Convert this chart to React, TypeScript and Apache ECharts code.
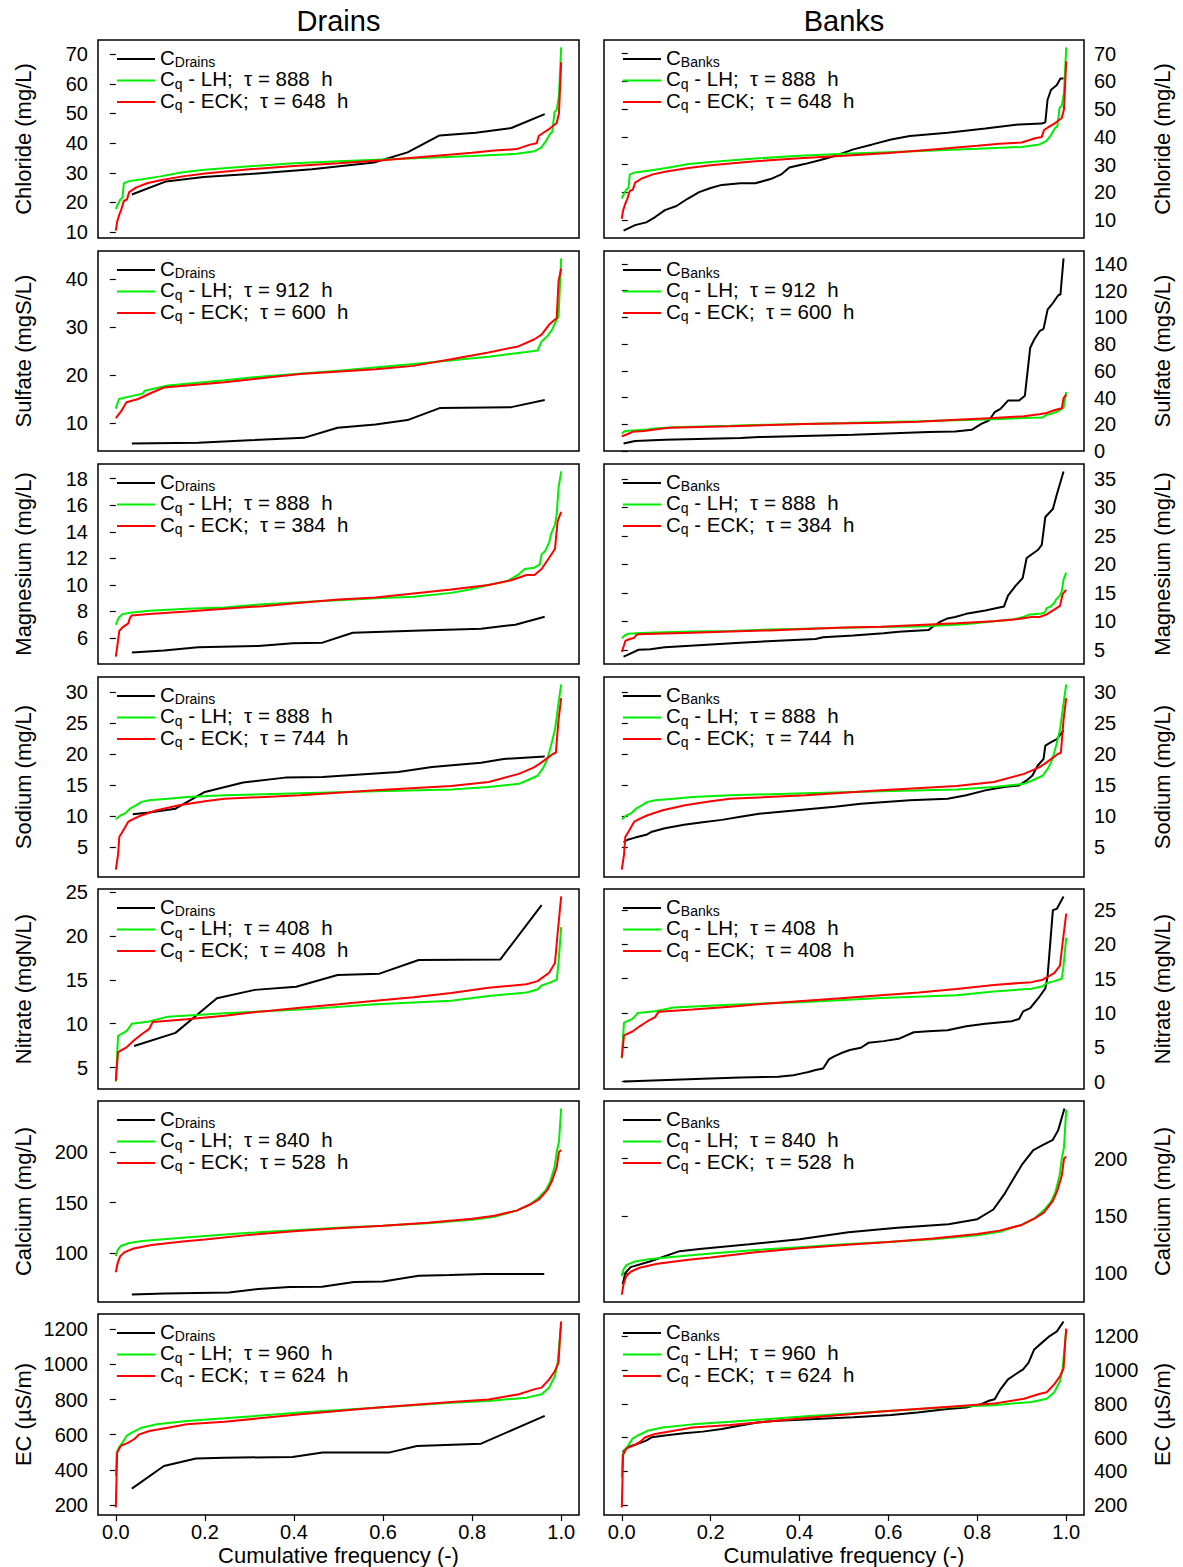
import React, { useEffect, useRef } from 'react';
import * as echarts from 'echarts';

type Pt = [number, number];

const FONT = '"Liberation Sans", Arial, Helvetica, sans-serif';

const columnTitles = ['Drains', 'Banks'];
const rowNames = ['Chloride (mg/L)', 'Sulfate (mgS/L)', 'Magnesium (mg/L)', 'Sodium (mg/L)', 'Nitrate (mgN/L)', 'Calcium (mg/L)', 'EC (µS/m)'];
const tauLH = [888, 912, 888, 888, 408, 840, 960];
const tauECK = [648, 600, 384, 744, 408, 528, 624];
const freqTicks = [0, 0.2, 0.4, 0.6, 0.8, 1.0];
const drainsTicks = [
  [10, 20, 30, 40, 50, 60, 70],
  [10, 20, 30, 40],
  [6, 8, 10, 12, 14, 16, 18],
  [5, 10, 15, 20, 25, 30],
  [5, 10, 15, 20, 25],
  [100, 150, 200],
  [200, 400, 600, 800, 1000, 1200],
];
const banksTicks = [
  [10, 20, 30, 40, 50, 60, 70],
  [0, 20, 40, 60, 80, 100, 120, 140],
  [5, 10, 15, 20, 25, 30, 35],
  [5, 10, 15, 20, 25, 30],
  [0, 5, 10, 15, 20, 25],
  [100, 150, 200],
  [200, 400, 600, 800, 1000, 1200],
];

// ---- Chloride
const chlorideLH: Pt[] = [[0,17.8],[0.005,19.5],[0.01,21],[0.015,21.6],[0.018,26.5],[0.03,27.2],[0.06,27.8],[0.1,28.8],[0.15,30.2],[0.2,31],[0.3,32.2],[0.4,33.2],[0.5,33.9],[0.6,34.5],[0.7,35.1],[0.8,35.7],[0.9,36.4],[0.94,37.3],[0.955,38.5],[0.965,40.5],[0.975,43.2],[0.98,43.8],[0.985,50.5],[0.99,51.2],[0.995,56],[1,72.3]];
const chlorideECK: Pt[] = [[0,10.5],[0.003,13.5],[0.008,16],[0.012,17.5],[0.018,20.5],[0.025,21],[0.03,23.5],[0.045,25],[0.07,26.5],[0.1,27.5],[0.15,28.8],[0.2,29.8],[0.3,31.2],[0.4,32.3],[0.5,33.2],[0.6,34.2],[0.7,35.5],[0.8,36.8],[0.85,37.5],[0.9,38],[0.93,39.5],[0.945,40],[0.95,42.5],[0.96,43.5],[0.975,45],[0.99,46.8],[0.995,50],[1,67.3]];
const chlorideDrains: Pt[] = [[0.036,22.7],[0.113,27.1],[0.197,28.6],[0.3,29.6],[0.44,31.2],[0.58,33.5],[0.655,36.9],[0.727,42.6],[0.808,43.5],[0.888,45.1],[0.963,49.8]];
const chlorideBanks: Pt[] = [[0.004,6.2],[0.03,8.2],[0.055,9.2],[0.076,11.2],[0.097,13.6],[0.123,15.1],[0.148,17.7],[0.174,20.1],[0.2,21.6],[0.225,22.7],[0.267,23.3],[0.3,23.3],[0.335,24.8],[0.36,26.6],[0.377,29],[0.411,30.2],[0.445,31.6],[0.479,33.1],[0.521,35.5],[0.564,37.3],[0.606,39.1],[0.648,40.3],[0.733,41.5],[0.818,43],[0.894,44.5],[0.945,44.8],[0.953,45.3],[0.958,53.4],[0.966,57],[0.979,58.7],[0.987,61.1],[0.994,61.1]];

// ---- Sulfate
const sulfateLH: Pt[] = [[0,13],[0.007,15],[0.04,15.7],[0.06,16.1],[0.065,16.7],[0.117,17.8],[0.244,18.9],[0.33,19.7],[0.5,20.9],[0.668,22.3],[0.837,23.8],[0.922,24.8],[0.947,25.1],[0.956,27],[0.969,28.1],[0.98,29.5],[0.988,31.2],[0.994,32.2],[1,44.3]];
const sulfateECK: Pt[] = [[0,11],[0.011,12.3],[0.024,14.3],[0.05,15],[0.083,16.4],[0.108,17.4],[0.244,18.5],[0.414,20.2],[0.583,21.2],[0.668,21.9],[0.753,23.3],[0.837,24.7],[0.905,26],[0.939,27.4],[0.956,28.4],[0.973,30.5],[0.99,31.9],[0.994,39.5],[1,42.2]];
const sulfateDrains: Pt[] = [[0.036,5.7],[0.185,5.9],[0.3,6.4],[0.422,6.9],[0.498,9],[0.583,9.7],[0.655,10.6],[0.727,13.1],[0.888,13.3],[0.963,14.8]];
const sulfateBanks: Pt[] = [[0.004,5.5],[0.03,7.4],[0.097,8.4],[0.267,9.7],[0.309,10.4],[0.521,12.1],[0.69,14.1],[0.75,14.6],[0.788,15.9],[0.809,20.3],[0.826,22.8],[0.839,29],[0.852,31.5],[0.869,37.7],[0.894,37.7],[0.907,41.4],[0.919,77.3],[0.928,83.5],[0.94,89.7],[0.949,91.4],[0.958,105.8],[0.97,110.8],[0.983,117],[0.987,117],[0.994,144.2]];

// ---- Magnesium
const magnesiumLH: Pt[] = [[0,7],[0.007,7.55],[0.015,7.8],[0.032,7.9],[0.075,8.05],[0.16,8.2],[0.244,8.3],[0.33,8.55],[0.414,8.7],[0.5,8.85],[0.583,9],[0.668,9.1],[0.753,9.4],[0.795,9.65],[0.837,10],[0.88,10.3],[0.905,10.8],[0.918,11.2],[0.94,11.3],[0.952,11.55],[0.956,12.3],[0.964,12.55],[0.973,13.2],[0.977,13.8],[0.986,14.55],[0.99,15.3],[0.994,17.3],[1,18.55]];
const magnesiumECK: Pt[] = [[0,4.6],[0.005,5.8],[0.008,6.55],[0.015,6.8],[0.028,7.1],[0.032,7.55],[0.036,7.7],[0.075,7.8],[0.16,8],[0.244,8.2],[0.33,8.4],[0.414,8.65],[0.5,8.9],[0.583,9.05],[0.668,9.35],[0.753,9.65],[0.837,10],[0.888,10.35],[0.922,10.75],[0.94,10.75],[0.956,11.2],[0.973,12.05],[0.986,12.7],[0.992,14.8],[1,15.5]];
const magnesiumDrains: Pt[] = [[0.036,4.9],[0.108,5.05],[0.185,5.3],[0.32,5.4],[0.397,5.6],[0.464,5.65],[0.532,6.4],[0.668,6.55],[0.82,6.7],[0.897,7],[0.963,7.6]];
const magnesiumBanks: Pt[] = [[0.004,3.8],[0.013,4.1],[0.038,5],[0.064,5.1],[0.097,5.45],[0.182,5.85],[0.267,6.25],[0.352,6.6],[0.436,6.9],[0.453,7.2],[0.521,7.5],[0.589,7.9],[0.623,8.15],[0.69,8.45],[0.699,9],[0.716,9.9],[0.733,10.5],[0.75,10.75],[0.775,11.3],[0.818,11.9],[0.86,12.6],[0.869,14.5],[0.886,16.2],[0.902,17.6],[0.911,21.1],[0.936,22.5],[0.945,23.4],[0.953,28.3],[0.97,29.7],[0.979,32.3],[0.994,36.3]];

// ---- Sodium
const sodiumLH: Pt[] = [[0,9.5],[0.011,10.15],[0.02,10.4],[0.032,11.2],[0.045,11.75],[0.058,12.3],[0.075,12.55],[0.117,12.8],[0.159,13.1],[0.244,13.35],[0.414,13.7],[0.583,14],[0.753,14.3],[0.837,14.7],[0.905,15.2],[0.922,15.7],[0.947,16.5],[0.96,17.8],[0.969,19.2],[0.977,21.3],[0.986,23.9],[0.994,28.2],[1,31.2]];
const sodiumECK: Pt[] = [[0,1.4],[0.005,3.8],[0.008,6.7],[0.015,7.5],[0.028,9.1],[0.041,9.6],[0.058,10.15],[0.092,10.95],[0.142,11.75],[0.2,12.4],[0.244,12.8],[0.414,13.35],[0.583,14.15],[0.753,14.85],[0.837,15.5],[0.905,16.8],[0.939,17.85],[0.956,18.65],[0.981,20],[0.988,20.2],[0.994,25.5],[1,29]];
const sodiumDrains: Pt[] = [[0.038,10.3],[0.075,10.6],[0.134,11.2],[0.2,13.9],[0.286,15.4],[0.38,16.2],[0.464,16.3],[0.634,17.1],[0.71,17.9],[0.82,18.6],[0.871,19.2],[0.963,19.6]];
const sodiumBanks: Pt[] = [[0.004,5.8],[0.013,6.2],[0.03,6.55],[0.055,7],[0.068,7.5],[0.097,8.05],[0.14,8.6],[0.182,9],[0.225,9.4],[0.267,9.9],[0.309,10.4],[0.394,10.95],[0.479,11.5],[0.538,12],[0.648,12.55],[0.733,12.8],[0.775,13.35],[0.818,14.15],[0.86,14.7],[0.894,14.95],[0.911,15.75],[0.924,16.55],[0.936,18.15],[0.949,19.2],[0.953,21.35],[0.966,21.9],[0.979,22.4],[0.994,23.8]];

// ---- Nitrate
const nitrateLH: Pt[] = [[0,3.4],[0.005,8.6],[0.015,8.9],[0.024,9.15],[0.032,9.7],[0.036,10],[0.075,10.25],[0.117,10.8],[0.244,11.2],[0.414,11.6],[0.583,12.2],[0.753,12.6],[0.837,13.15],[0.922,13.55],[0.947,13.9],[0.956,14.35],[0.973,14.65],[0.99,15],[0.994,16.9],[1,21]];
const nitrateECK: Pt[] = [[0,3.5],[0.005,6.75],[0.024,7.3],[0.041,8.1],[0.058,8.8],[0.075,9.4],[0.083,10.2],[0.159,10.5],[0.244,10.9],[0.329,11.4],[0.414,11.8],[0.5,12.2],[0.583,12.6],[0.668,13],[0.753,13.5],[0.837,14.1],[0.922,14.5],[0.947,14.85],[0.973,15.8],[0.986,16.9],[0.992,20.3],[1,24.5]];
const nitrateDrains: Pt[] = [[0.041,7.45],[0.134,8.95],[0.227,12.9],[0.312,13.85],[0.405,14.2],[0.498,15.55],[0.592,15.7],[0.68,17.25],[0.863,17.3],[0.956,23.5]];
const nitrateBanks: Pt[] = [[0.004,0],[0.038,0.1],[0.182,0.43],[0.267,0.58],[0.352,0.72],[0.386,0.92],[0.403,1.16],[0.42,1.4],[0.436,1.7],[0.453,1.9],[0.466,3.24],[0.479,3.72],[0.496,4.2],[0.513,4.6],[0.538,4.93],[0.555,5.65],[0.589,5.9],[0.623,6.23],[0.657,7.2],[0.69,7.34],[0.733,7.5],[0.775,8.07],[0.818,8.45],[0.877,8.8],[0.894,9.13],[0.903,10.24],[0.919,10.7],[0.928,11.45],[0.94,12.4],[0.953,13.6],[0.958,15.3],[0.97,25],[0.979,25.2],[0.994,27]];

// ---- Calcium
const calciumLH: Pt[] = [[0,97],[0.004,103],[0.011,107],[0.03,110],[0.06,112],[0.1,113.5],[0.2,117],[0.3,120],[0.4,122.5],[0.5,125],[0.6,127],[0.7,129.5],[0.8,133],[0.85,136],[0.9,142],[0.93,148],[0.95,155],[0.965,162],[0.975,170],[0.985,185],[0.99,200],[0.995,210],[1,243]];
const calciumECK: Pt[] = [[0,81],[0.004,90],[0.01,97],[0.02,101],[0.04,104.5],[0.08,108],[0.15,111.5],[0.2,113.5],[0.3,118],[0.4,121.5],[0.5,124.5],[0.6,127],[0.7,130],[0.8,134],[0.85,137],[0.9,142],[0.93,148],[0.95,153],[0.97,163],[0.98,172],[0.99,185],[0.995,200],[1,202]];
const calciumDrains: Pt[] = [[0.036,59],[0.11,60],[0.254,61],[0.32,64.5],[0.39,66.5],[0.463,66.7],[0.535,71.5],[0.6,71.8],[0.68,77.5],[0.75,78.3],[0.827,79.3],[0.962,79.4]];
const calciumBanks: Pt[] = [[0.002,90],[0.008,100],[0.02,105],[0.063,110],[0.13,119],[0.175,121],[0.287,125],[0.4,129.5],[0.51,135.5],[0.62,139.5],[0.735,142.5],[0.8,147],[0.836,155.5],[0.86,168.5],[0.88,181.5],[0.9,194.5],[0.926,207.5],[0.948,212],[0.97,216.5],[0.982,225],[0.996,244]];

// ---- EC
const ecLH: Pt[] = [[0,365],[0.002,498],[0.007,526],[0.015,555],[0.024,593],[0.036,612],[0.058,640],[0.092,659],[0.159,678],[0.244,693],[0.414,726],[0.583,754],[0.753,782],[0.837,792],[0.922,811],[0.956,830],[0.973,868],[0.986,934],[0.992,1010],[0.996,1124],[1,1230]];
const ecECK: Pt[] = [[0,185],[0.003,498],[0.011,536],[0.028,555],[0.041,574],[0.053,602],[0.075,621],[0.117,640],[0.159,659],[0.244,674],[0.414,716],[0.583,754],[0.753,786],[0.837,801],[0.905,830],[0.939,858],[0.956,868],[0.973,915],[0.986,963],[0.994,1010],[0.998,1181],[1,1245]];
const ecDrains: Pt[] = [[0.036,293],[0.108,422],[0.18,464],[0.244,469],[0.397,473],[0.464,498],[0.613,498],[0.676,536],[0.82,549],[0.963,707]];
const ecBanks: Pt[] = [[0.002,514],[0.013,543],[0.03,557],[0.055,582],[0.068,602],[0.097,612],[0.14,625],[0.182,635],[0.225,651],[0.267,671],[0.309,690],[0.352,700],[0.436,710],[0.521,720],[0.606,733],[0.665,749],[0.733,769],[0.775,778],[0.809,798],[0.826,818],[0.839,827],[0.852,886],[0.869,945],[0.886,975],[0.903,1004],[0.915,1043],[0.928,1122],[0.945,1161],[0.962,1200],[0.979,1229],[0.994,1288]];

const lhSeries = [chlorideLH, sulfateLH, magnesiumLH, sodiumLH, nitrateLH, calciumLH, ecLH];
const eckSeries = [chlorideECK, sulfateECK, magnesiumECK, sodiumECK, nitrateECK, calciumECK, ecECK];
const drainsSeries = [chlorideDrains, sulfateDrains, magnesiumDrains, sodiumDrains, nitrateDrains, calciumDrains, ecDrains];
const banksSeries = [chlorideBanks, sulfateBanks, magnesiumBanks, sodiumBanks, nitrateBanks, calciumBanks, ecBanks];

// layout (pixels)
const GRID_LEFT = [98, 604];
const GRID_WIDTH = [481, 480];
const ROW_TOP = [40, 251, 464, 677, 889, 1101, 1314];
const ROW_HEIGHT = [198, 200, 200, 200, 200, 201, 201];

const GREEN = '#00ee00';
const RED = '#ff0000';
const BLACK = '#000000';
const LINE_W = 2;

function paddedExtent(list: Pt[][]): [number, number] {
  let lo = Infinity;
  let hi = -Infinity;
  list.forEach((s) => s.forEach((p) => { if (p[1] < lo) lo = p[1]; if (p[1] > hi) hi = p[1]; }));
  const pad = (hi - lo) * 0.04;
  return [lo - pad, hi + pad];
}

function buildOption() {
  const grid: any[] = [];
  const xAxis: any[] = [];
  const yAxis: any[] = [];
  const series: any[] = [];
  const graphic: any[] = [];

  columnTitles.forEach((t, c) => {
    graphic.push({
      type: 'text', x: GRID_LEFT[c] + GRID_WIDTH[c] / 2, y: 21, silent: true,
      style: { text: t, fontSize: 29, fontFamily: FONT, fill: '#000', textAlign: 'center', verticalAlign: 'middle' },
    });
  });

  const rich = {
    m: { fontSize: 20.5, lineHeight: 20, fontFamily: FONT, fill: '#000', color: '#000' },
    s: { fontSize: 14, lineHeight: 10, fontFamily: FONT, fill: '#000', color: '#000', padding: [10, 0, 0, 0] },
  };

  for (let r = 0; r < 7; r++) {
    for (let c = 0; c < 2; c++) {
      const g = r * 2 + c;
      const obs = c === 0 ? drainsSeries[r] : banksSeries[r];
      const [ymin, ymax] = paddedExtent([obs, lhSeries[r], eckSeries[r]]);
      const ticks = c === 0 ? drainsTicks[r] : banksTicks[r];
      const bottom = r === 6;
      grid.push({
        left: GRID_LEFT[c], top: ROW_TOP[r], width: GRID_WIDTH[c], height: ROW_HEIGHT[r],
        show: true, borderColor: '#000', borderWidth: 1.5, backgroundColor: 'transparent', containLabel: false,
      });
      xAxis.push({
        gridIndex: g, type: 'value', min: -0.04, max: 1.04,
        axisLine: { show: false }, splitLine: { show: false },
        axisTick: { show: bottom, length: 6, customValues: freqTicks, lineStyle: { color: '#000', width: 1.2 } },
        axisLabel: {
          show: bottom, customValues: freqTicks, formatter: (v: number) => v.toFixed(1),
          fontSize: 20, fontFamily: FONT, color: '#000', margin: 7,
        },
        name: bottom ? 'Cumulative frequency (-)' : '', nameLocation: 'middle', nameGap: 29,
        nameTextStyle: { fontSize: 22, fontFamily: FONT, color: '#000', verticalAlign: 'top' },
      });
      yAxis.push({
        gridIndex: g, type: 'value', position: c === 0 ? 'left' : 'right', min: ymin, max: ymax,
        axisLine: { show: false }, splitLine: { show: false },
        axisTick: { show: true, length: 6, customValues: ticks, lineStyle: { color: '#000', width: 1.2 } },
        axisLabel: { customValues: ticks, formatter: (v: number) => String(v), fontSize: 20, fontFamily: FONT, color: '#000', margin: 10 },
        name: rowNames[r], nameLocation: 'middle', nameRotate: 90, nameGap: c === 0 ? 64 : 67,
        nameTextStyle: { fontSize: 22, fontFamily: FONT, color: '#000' },
      });
      series.push(
        { type: 'line', name: c === 0 ? 'CDrains' : 'CBanks', xAxisIndex: g, yAxisIndex: g, data: obs, symbol: 'none', silent: true, lineStyle: { color: BLACK, width: LINE_W }, z: 2 },
        { type: 'line', name: 'Cq - LH', xAxisIndex: g, yAxisIndex: g, data: lhSeries[r], symbol: 'none', silent: true, lineStyle: { color: GREEN, width: LINE_W }, z: 3 },
        { type: 'line', name: 'Cq - ECK', xAxisIndex: g, yAxisIndex: g, data: eckSeries[r], symbol: 'none', silent: true, lineStyle: { color: RED, width: LINE_W }, z: 4 },
      );

      // legend (drawn inside the panel, top-left)
      const gx = GRID_LEFT[c];
      const gy = ROW_TOP[r];
      const items = [
        { color: BLACK, text: `{m|C}{s|${columnTitles[c]}}`, dy: 19 },
        { color: GREEN, text: `{m|C}{s|q}{m| - LH;  τ = ${tauLH[r]}  h}`, dy: 40.5 },
        { color: RED, text: `{m|C}{s|q}{m| - ECK;  τ = ${tauECK[r]}  h}`, dy: 62 },
      ];
      items.forEach((it) => {
        graphic.push({
          type: 'line', silent: true, z: 10,
          shape: { x1: gx + 19, y1: gy + it.dy, x2: gx + 57, y2: gy + it.dy },
          style: { stroke: it.color, lineWidth: LINE_W },
        });
        graphic.push({
          type: 'text', silent: true, z: 10, x: gx + 62, y: gy + it.dy - 2,
          style: { text: it.text, rich, fontFamily: FONT, fontSize: 20.5, fill: '#000', verticalAlign: 'middle', textAlign: 'left' },
        });
      });
    }
  }

  return {
    animation: false,
    backgroundColor: '#ffffff',
    textStyle: { fontFamily: FONT },
    grid, xAxis, yAxis, series, graphic,
  };
}

export default function App() {
  const ref = useRef<HTMLDivElement>(null);
  useEffect(() => {
    document.body.style.margin = '0';
    if (!ref.current) return;
    const chart = echarts.init(ref.current, null, { renderer: 'svg' });
    chart.setOption(buildOption() as any);
    return () => chart.dispose();
  }, []);
  return <div ref={ref} style={{ width: 1183, height: 1567, background: '#fff' }} />;
}
